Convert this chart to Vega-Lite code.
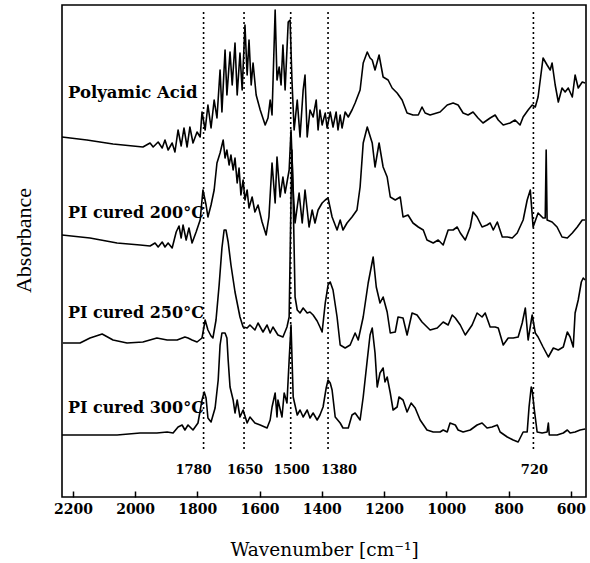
{
"$schema": "https://vega.github.io/schema/vega-lite/v6.json",
"width": 524, "height": 492,
"autosize": {"type": "none"},
"padding": {"left": 62, "top": 5, "right": 4, "bottom": 66},
"background": "white",
"config": {"view": {"stroke": "#000", "strokeWidth": 1.6}},
"datasets": {
"peaks": [{"wn":1780,"label":"1780"},{"wn":1650,"label":"1650"},{"wn":1500,"label":"1500"},{"wn":1380,"label":"1380"},{"wn":720,"label":"720"}],
"spectra": [
{"s":"PA","wn":2235,"abs":360},{"s":"PA","wn":2155,"abs":357},{"s":"PA","wn":2071,"abs":353},{"s":"PA","wn":2007,"abs":351},{"s":"PA","wn":1975,"abs":350},{"s":"PA","wn":1952,"abs":354},{"s":"PA","wn":1942,"abs":350},{"s":"PA","wn":1926,"abs":355},{"s":"PA","wn":1913,"abs":349},{"s":"PA","wn":1904,"abs":357},{"s":"PA","wn":1894,"abs":347},{"s":"PA","wn":1881,"abs":354},{"s":"PA","wn":1872,"abs":345},{"s":"PA","wn":1862,"abs":367},{"s":"PA","wn":1852,"abs":351},{"s":"PA","wn":1843,"abs":369},{"s":"PA","wn":1833,"abs":350},{"s":"PA","wn":1824,"abs":370},{"s":"PA","wn":1814,"abs":354},{"s":"PA","wn":1801,"abs":365},{"s":"PA","wn":1791,"abs":360},{"s":"PA","wn":1785,"abs":385},{"s":"PA","wn":1775,"abs":367},{"s":"PA","wn":1766,"abs":392},{"s":"PA","wn":1756,"abs":369},{"s":"PA","wn":1746,"abs":397},{"s":"PA","wn":1737,"abs":379},{"s":"PA","wn":1727,"abs":427},{"s":"PA","wn":1721,"abs":385},{"s":"PA","wn":1711,"abs":447},{"s":"PA","wn":1705,"abs":402},{"s":"PA","wn":1695,"abs":445},{"s":"PA","wn":1688,"abs":412},{"s":"PA","wn":1679,"abs":454},{"s":"PA","wn":1672,"abs":402},{"s":"PA","wn":1663,"abs":444},{"s":"PA","wn":1656,"abs":407},{"s":"PA","wn":1647,"abs":472},{"s":"PA","wn":1640,"abs":422},{"s":"PA","wn":1634,"abs":457},{"s":"PA","wn":1627,"abs":412},{"s":"PA","wn":1621,"abs":434},{"s":"PA","wn":1611,"abs":402},{"s":"PA","wn":1598,"abs":387},{"s":"PA","wn":1582,"abs":372},{"s":"PA","wn":1573,"abs":379},{"s":"PA","wn":1566,"abs":397},{"s":"PA","wn":1560,"abs":382},{"s":"PA","wn":1550,"abs":487},{"s":"PA","wn":1544,"abs":417},{"s":"PA","wn":1537,"abs":430},{"s":"PA","wn":1531,"abs":412},{"s":"PA","wn":1525,"abs":452},{"s":"PA","wn":1518,"abs":407},{"s":"PA","wn":1508,"abs":475},{"s":"PA","wn":1502,"abs":477},{"s":"PA","wn":1496,"abs":417},{"s":"PA","wn":1489,"abs":367},{"s":"PA","wn":1479,"abs":397},{"s":"PA","wn":1470,"abs":360},{"s":"PA","wn":1460,"abs":407},{"s":"PA","wn":1454,"abs":422},{"s":"PA","wn":1447,"abs":360},{"s":"PA","wn":1438,"abs":387},{"s":"PA","wn":1428,"abs":380},{"s":"PA","wn":1418,"abs":397},{"s":"PA","wn":1412,"abs":367},{"s":"PA","wn":1406,"abs":387},{"s":"PA","wn":1399,"abs":372},{"s":"PA","wn":1389,"abs":384},{"s":"PA","wn":1383,"abs":369},{"s":"PA","wn":1373,"abs":385},{"s":"PA","wn":1364,"abs":370},{"s":"PA","wn":1354,"abs":385},{"s":"PA","wn":1348,"abs":367},{"s":"PA","wn":1341,"abs":382},{"s":"PA","wn":1335,"abs":369},{"s":"PA","wn":1325,"abs":385},{"s":"PA","wn":1315,"abs":380},{"s":"PA","wn":1303,"abs":387},{"s":"PA","wn":1293,"abs":394},{"s":"PA","wn":1277,"abs":407},{"s":"PA","wn":1267,"abs":434},{"s":"PA","wn":1254,"abs":445},{"s":"PA","wn":1245,"abs":439},{"s":"PA","wn":1238,"abs":437},{"s":"PA","wn":1229,"abs":427},{"s":"PA","wn":1216,"abs":442},{"s":"PA","wn":1203,"abs":420},{"s":"PA","wn":1187,"abs":417},{"s":"PA","wn":1174,"abs":409},{"s":"PA","wn":1158,"abs":404},{"s":"PA","wn":1142,"abs":397},{"s":"PA","wn":1126,"abs":384},{"s":"PA","wn":1107,"abs":382},{"s":"PA","wn":1090,"abs":382},{"s":"PA","wn":1078,"abs":390},{"s":"PA","wn":1068,"abs":384},{"s":"PA","wn":1052,"abs":382},{"s":"PA","wn":1020,"abs":385},{"s":"PA","wn":997,"abs":392},{"s":"PA","wn":978,"abs":394},{"s":"PA","wn":962,"abs":392},{"s":"PA","wn":946,"abs":384},{"s":"PA","wn":930,"abs":382},{"s":"PA","wn":914,"abs":385},{"s":"PA","wn":898,"abs":379},{"s":"PA","wn":882,"abs":374},{"s":"PA","wn":859,"abs":379},{"s":"PA","wn":843,"abs":382},{"s":"PA","wn":833,"abs":377},{"s":"PA","wn":817,"abs":372},{"s":"PA","wn":795,"abs":374},{"s":"PA","wn":779,"abs":377},{"s":"PA","wn":763,"abs":372},{"s":"PA","wn":753,"abs":380},{"s":"PA","wn":737,"abs":387},{"s":"PA","wn":724,"abs":392},{"s":"PA","wn":714,"abs":390},{"s":"PA","wn":705,"abs":400},{"s":"PA","wn":689,"abs":439},{"s":"PA","wn":676,"abs":432},{"s":"PA","wn":666,"abs":427},{"s":"PA","wn":660,"abs":434},{"s":"PA","wn":650,"abs":412},{"s":"PA","wn":640,"abs":395},{"s":"PA","wn":628,"abs":409},{"s":"PA","wn":618,"abs":405},{"s":"PA","wn":608,"abs":409},{"s":"PA","wn":595,"abs":400},{"s":"PA","wn":586,"abs":422},{"s":"PA","wn":576,"abs":409},{"s":"PA","wn":563,"abs":415},{"s":"PA","wn":554,"abs":414},
{"s":"C200","wn":2235,"abs":262},{"s":"C200","wn":2145,"abs":259},{"s":"C200","wn":2058,"abs":254},{"s":"C200","wn":1984,"abs":252},{"s":"C200","wn":1952,"abs":251},{"s":"C200","wn":1936,"abs":254},{"s":"C200","wn":1926,"abs":250},{"s":"C200","wn":1913,"abs":255},{"s":"C200","wn":1904,"abs":250},{"s":"C200","wn":1894,"abs":254},{"s":"C200","wn":1881,"abs":249},{"s":"C200","wn":1868,"abs":265},{"s":"C200","wn":1859,"abs":271},{"s":"C200","wn":1852,"abs":259},{"s":"C200","wn":1846,"abs":272},{"s":"C200","wn":1836,"abs":257},{"s":"C200","wn":1827,"abs":269},{"s":"C200","wn":1817,"abs":254},{"s":"C200","wn":1804,"abs":265},{"s":"C200","wn":1791,"abs":277},{"s":"C200","wn":1782,"abs":307},{"s":"C200","wn":1772,"abs":292},{"s":"C200","wn":1766,"abs":280},{"s":"C200","wn":1756,"abs":292},{"s":"C200","wn":1746,"abs":307},{"s":"C200","wn":1737,"abs":334},{"s":"C200","wn":1727,"abs":344},{"s":"C200","wn":1717,"abs":357},{"s":"C200","wn":1711,"abs":339},{"s":"C200","wn":1705,"abs":347},{"s":"C200","wn":1698,"abs":332},{"s":"C200","wn":1692,"abs":342},{"s":"C200","wn":1685,"abs":327},{"s":"C200","wn":1679,"abs":339},{"s":"C200","wn":1672,"abs":314},{"s":"C200","wn":1666,"abs":329},{"s":"C200","wn":1660,"abs":302},{"s":"C200","wn":1653,"abs":317},{"s":"C200","wn":1647,"abs":297},{"s":"C200","wn":1640,"abs":307},{"s":"C200","wn":1634,"abs":289},{"s":"C200","wn":1624,"abs":300},{"s":"C200","wn":1615,"abs":285},{"s":"C200","wn":1605,"abs":292},{"s":"C200","wn":1592,"abs":275},{"s":"C200","wn":1579,"abs":262},{"s":"C200","wn":1570,"abs":280},{"s":"C200","wn":1560,"abs":334},{"s":"C200","wn":1550,"abs":294},{"s":"C200","wn":1544,"abs":340},{"s":"C200","wn":1534,"abs":300},{"s":"C200","wn":1525,"abs":320},{"s":"C200","wn":1518,"abs":304},{"s":"C200","wn":1505,"abs":327},{"s":"C200","wn":1499,"abs":367},{"s":"C200","wn":1492,"abs":307},{"s":"C200","wn":1486,"abs":274},{"s":"C200","wn":1473,"abs":304},{"s":"C200","wn":1463,"abs":274},{"s":"C200","wn":1454,"abs":307},{"s":"C200","wn":1441,"abs":270},{"s":"C200","wn":1431,"abs":287},{"s":"C200","wn":1422,"abs":274},{"s":"C200","wn":1412,"abs":287},{"s":"C200","wn":1399,"abs":294},{"s":"C200","wn":1389,"abs":297},{"s":"C200","wn":1380,"abs":299},{"s":"C200","wn":1367,"abs":280},{"s":"C200","wn":1351,"abs":267},{"s":"C200","wn":1341,"abs":277},{"s":"C200","wn":1332,"abs":267},{"s":"C200","wn":1319,"abs":274},{"s":"C200","wn":1303,"abs":280},{"s":"C200","wn":1287,"abs":287},{"s":"C200","wn":1277,"abs":310},{"s":"C200","wn":1267,"abs":354},{"s":"C200","wn":1254,"abs":370},{"s":"C200","wn":1238,"abs":354},{"s":"C200","wn":1229,"abs":330},{"s":"C200","wn":1216,"abs":354},{"s":"C200","wn":1203,"abs":330},{"s":"C200","wn":1190,"abs":320},{"s":"C200","wn":1180,"abs":300},{"s":"C200","wn":1164,"abs":297},{"s":"C200","wn":1148,"abs":300},{"s":"C200","wn":1139,"abs":280},{"s":"C200","wn":1123,"abs":282},{"s":"C200","wn":1107,"abs":274},{"s":"C200","wn":1090,"abs":270},{"s":"C200","wn":1074,"abs":267},{"s":"C200","wn":1062,"abs":257},{"s":"C200","wn":1042,"abs":254},{"s":"C200","wn":1026,"abs":257},{"s":"C200","wn":1010,"abs":252},{"s":"C200","wn":994,"abs":267},{"s":"C200","wn":978,"abs":267},{"s":"C200","wn":965,"abs":270},{"s":"C200","wn":955,"abs":264},{"s":"C200","wn":939,"abs":257},{"s":"C200","wn":923,"abs":270},{"s":"C200","wn":914,"abs":285},{"s":"C200","wn":901,"abs":280},{"s":"C200","wn":885,"abs":270},{"s":"C200","wn":869,"abs":272},{"s":"C200","wn":859,"abs":274},{"s":"C200","wn":849,"abs":267},{"s":"C200","wn":836,"abs":275},{"s":"C200","wn":820,"abs":260},{"s":"C200","wn":804,"abs":260},{"s":"C200","wn":788,"abs":259},{"s":"C200","wn":772,"abs":264},{"s":"C200","wn":753,"abs":277},{"s":"C200","wn":740,"abs":297},{"s":"C200","wn":730,"abs":307},{"s":"C200","wn":721,"abs":270},{"s":"C200","wn":705,"abs":284},{"s":"C200","wn":689,"abs":279},{"s":"C200","wn":682,"abs":279},{"s":"C200","wn":679,"abs":347},{"s":"C200","wn":676,"abs":277},{"s":"C200","wn":660,"abs":275},{"s":"C200","wn":644,"abs":270},{"s":"C200","wn":628,"abs":260},{"s":"C200","wn":611,"abs":259},{"s":"C200","wn":595,"abs":264},{"s":"C200","wn":579,"abs":270},{"s":"C200","wn":563,"abs":277},{"s":"C200","wn":554,"abs":277},
{"s":"C250","wn":2232,"abs":154},{"s":"C250","wn":2177,"abs":154},{"s":"C250","wn":2145,"abs":159},{"s":"C250","wn":2106,"abs":163},{"s":"C250","wn":2071,"abs":157},{"s":"C250","wn":2026,"abs":154},{"s":"C250","wn":1975,"abs":155},{"s":"C250","wn":1930,"abs":159},{"s":"C250","wn":1897,"abs":157},{"s":"C250","wn":1865,"abs":157},{"s":"C250","wn":1840,"abs":160},{"s":"C250","wn":1830,"abs":159},{"s":"C250","wn":1817,"abs":157},{"s":"C250","wn":1801,"abs":155},{"s":"C250","wn":1785,"abs":159},{"s":"C250","wn":1775,"abs":177},{"s":"C250","wn":1766,"abs":167},{"s":"C250","wn":1756,"abs":161},{"s":"C250","wn":1750,"abs":159},{"s":"C250","wn":1740,"abs":177},{"s":"C250","wn":1730,"abs":212},{"s":"C250","wn":1721,"abs":249},{"s":"C250","wn":1714,"abs":267},{"s":"C250","wn":1708,"abs":267},{"s":"C250","wn":1701,"abs":255},{"s":"C250","wn":1692,"abs":232},{"s":"C250","wn":1679,"abs":205},{"s":"C250","wn":1663,"abs":180},{"s":"C250","wn":1653,"abs":170},{"s":"C250","wn":1640,"abs":169},{"s":"C250","wn":1631,"abs":172},{"s":"C250","wn":1615,"abs":167},{"s":"C250","wn":1605,"abs":174},{"s":"C250","wn":1589,"abs":165},{"s":"C250","wn":1576,"abs":172},{"s":"C250","wn":1566,"abs":164},{"s":"C250","wn":1557,"abs":170},{"s":"C250","wn":1541,"abs":162},{"s":"C250","wn":1525,"abs":160},{"s":"C250","wn":1512,"abs":170},{"s":"C250","wn":1505,"abs":180},{"s":"C250","wn":1499,"abs":297},{"s":"C250","wn":1496,"abs":347},{"s":"C250","wn":1492,"abs":297},{"s":"C250","wn":1486,"abs":200},{"s":"C250","wn":1479,"abs":187},{"s":"C250","wn":1470,"abs":184},{"s":"C250","wn":1460,"abs":189},{"s":"C250","wn":1447,"abs":184},{"s":"C250","wn":1438,"abs":185},{"s":"C250","wn":1428,"abs":182},{"s":"C250","wn":1415,"abs":176},{"s":"C250","wn":1406,"abs":170},{"s":"C250","wn":1399,"abs":165},{"s":"C250","wn":1389,"abs":194},{"s":"C250","wn":1380,"abs":212},{"s":"C250","wn":1373,"abs":215},{"s":"C250","wn":1364,"abs":207},{"s":"C250","wn":1351,"abs":180},{"s":"C250","wn":1341,"abs":152},{"s":"C250","wn":1325,"abs":149},{"s":"C250","wn":1309,"abs":152},{"s":"C250","wn":1293,"abs":164},{"s":"C250","wn":1283,"abs":157},{"s":"C250","wn":1267,"abs":180},{"s":"C250","wn":1251,"abs":214},{"s":"C250","wn":1235,"abs":240},{"s":"C250","wn":1225,"abs":210},{"s":"C250","wn":1213,"abs":194},{"s":"C250","wn":1203,"abs":200},{"s":"C250","wn":1190,"abs":185},{"s":"C250","wn":1180,"abs":164},{"s":"C250","wn":1164,"abs":165},{"s":"C250","wn":1155,"abs":180},{"s":"C250","wn":1139,"abs":179},{"s":"C250","wn":1126,"abs":162},{"s":"C250","wn":1110,"abs":184},{"s":"C250","wn":1094,"abs":182},{"s":"C250","wn":1078,"abs":175},{"s":"C250","wn":1052,"abs":167},{"s":"C250","wn":1029,"abs":169},{"s":"C250","wn":1010,"abs":175},{"s":"C250","wn":994,"abs":172},{"s":"C250","wn":981,"abs":182},{"s":"C250","wn":971,"abs":179},{"s":"C250","wn":955,"abs":172},{"s":"C250","wn":939,"abs":162},{"s":"C250","wn":917,"abs":172},{"s":"C250","wn":901,"abs":184},{"s":"C250","wn":885,"abs":180},{"s":"C250","wn":875,"abs":184},{"s":"C250","wn":859,"abs":170},{"s":"C250","wn":843,"abs":170},{"s":"C250","wn":833,"abs":169},{"s":"C250","wn":817,"abs":152},{"s":"C250","wn":801,"abs":159},{"s":"C250","wn":785,"abs":159},{"s":"C250","wn":769,"abs":160},{"s":"C250","wn":756,"abs":174},{"s":"C250","wn":746,"abs":189},{"s":"C250","wn":737,"abs":157},{"s":"C250","wn":724,"abs":182},{"s":"C250","wn":714,"abs":164},{"s":"C250","wn":705,"abs":160},{"s":"C250","wn":689,"abs":150},{"s":"C250","wn":672,"abs":140},{"s":"C250","wn":656,"abs":149},{"s":"C250","wn":640,"abs":147},{"s":"C250","wn":624,"abs":150},{"s":"C250","wn":611,"abs":165},{"s":"C250","wn":602,"abs":160},{"s":"C250","wn":592,"abs":150},{"s":"C250","wn":586,"abs":184},{"s":"C250","wn":576,"abs":197},{"s":"C250","wn":566,"abs":215},{"s":"C250","wn":560,"abs":219},{"s":"C250","wn":554,"abs":217},
{"s":"C300","wn":2235,"abs":62},{"s":"C300","wn":2058,"abs":62},{"s":"C300","wn":1984,"abs":64},{"s":"C300","wn":1930,"abs":64},{"s":"C300","wn":1897,"abs":65},{"s":"C300","wn":1878,"abs":64},{"s":"C300","wn":1862,"abs":70},{"s":"C300","wn":1849,"abs":72},{"s":"C300","wn":1840,"abs":67},{"s":"C300","wn":1830,"abs":72},{"s":"C300","wn":1814,"abs":67},{"s":"C300","wn":1798,"abs":74},{"s":"C300","wn":1785,"abs":97},{"s":"C300","wn":1778,"abs":105},{"s":"C300","wn":1772,"abs":99},{"s":"C300","wn":1766,"abs":79},{"s":"C300","wn":1756,"abs":75},{"s":"C300","wn":1743,"abs":89},{"s":"C300","wn":1733,"abs":117},{"s":"C300","wn":1727,"abs":152},{"s":"C300","wn":1721,"abs":164},{"s":"C300","wn":1711,"abs":164},{"s":"C300","wn":1705,"abs":159},{"s":"C300","wn":1701,"abs":137},{"s":"C300","wn":1695,"abs":110},{"s":"C300","wn":1685,"abs":97},{"s":"C300","wn":1679,"abs":84},{"s":"C300","wn":1672,"abs":97},{"s":"C300","wn":1663,"abs":80},{"s":"C300","wn":1653,"abs":87},{"s":"C300","wn":1640,"abs":74},{"s":"C300","wn":1631,"abs":80},{"s":"C300","wn":1615,"abs":74},{"s":"C300","wn":1598,"abs":72},{"s":"C300","wn":1576,"abs":69},{"s":"C300","wn":1566,"abs":77},{"s":"C300","wn":1560,"abs":90},{"s":"C300","wn":1550,"abs":104},{"s":"C300","wn":1544,"abs":80},{"s":"C300","wn":1541,"abs":97},{"s":"C300","wn":1528,"abs":80},{"s":"C300","wn":1521,"abs":104},{"s":"C300","wn":1512,"abs":94},{"s":"C300","wn":1505,"abs":137},{"s":"C300","wn":1499,"abs":172},{"s":"C300","wn":1492,"abs":100},{"s":"C300","wn":1479,"abs":82},{"s":"C300","wn":1470,"abs":87},{"s":"C300","wn":1460,"abs":80},{"s":"C300","wn":1447,"abs":87},{"s":"C300","wn":1438,"abs":79},{"s":"C300","wn":1428,"abs":84},{"s":"C300","wn":1415,"abs":77},{"s":"C300","wn":1406,"abs":82},{"s":"C300","wn":1396,"abs":90},{"s":"C300","wn":1386,"abs":109},{"s":"C300","wn":1380,"abs":117},{"s":"C300","wn":1373,"abs":114},{"s":"C300","wn":1367,"abs":107},{"s":"C300","wn":1357,"abs":80},{"s":"C300","wn":1341,"abs":74},{"s":"C300","wn":1332,"abs":69},{"s":"C300","wn":1315,"abs":69},{"s":"C300","wn":1303,"abs":82},{"s":"C300","wn":1293,"abs":84},{"s":"C300","wn":1277,"abs":77},{"s":"C300","wn":1267,"abs":100},{"s":"C300","wn":1254,"abs":137},{"s":"C300","wn":1245,"abs":162},{"s":"C300","wn":1238,"abs":169},{"s":"C300","wn":1229,"abs":144},{"s":"C300","wn":1222,"abs":110},{"s":"C300","wn":1213,"abs":124},{"s":"C300","wn":1203,"abs":129},{"s":"C300","wn":1197,"abs":115},{"s":"C300","wn":1190,"abs":120},{"s":"C300","wn":1180,"abs":104},{"s":"C300","wn":1171,"abs":87},{"s":"C300","wn":1158,"abs":90},{"s":"C300","wn":1152,"abs":100},{"s":"C300","wn":1139,"abs":97},{"s":"C300","wn":1126,"abs":85},{"s":"C300","wn":1113,"abs":94},{"s":"C300","wn":1100,"abs":89},{"s":"C300","wn":1084,"abs":77},{"s":"C300","wn":1062,"abs":67},{"s":"C300","wn":1042,"abs":65},{"s":"C300","wn":1020,"abs":65},{"s":"C300","wn":1010,"abs":67},{"s":"C300","wn":997,"abs":65},{"s":"C300","wn":988,"abs":74},{"s":"C300","wn":971,"abs":72},{"s":"C300","wn":962,"abs":67},{"s":"C300","wn":946,"abs":65},{"s":"C300","wn":923,"abs":67},{"s":"C300","wn":901,"abs":72},{"s":"C300","wn":885,"abs":74},{"s":"C300","wn":869,"abs":69},{"s":"C300","wn":853,"abs":70},{"s":"C300","wn":836,"abs":72},{"s":"C300","wn":827,"abs":65},{"s":"C300","wn":804,"abs":60},{"s":"C300","wn":785,"abs":57},{"s":"C300","wn":769,"abs":55},{"s":"C300","wn":753,"abs":65},{"s":"C300","wn":740,"abs":65},{"s":"C300","wn":734,"abs":90},{"s":"C300","wn":727,"abs":110},{"s":"C300","wn":724,"abs":107},{"s":"C300","wn":717,"abs":87},{"s":"C300","wn":708,"abs":65},{"s":"C300","wn":692,"abs":64},{"s":"C300","wn":676,"abs":65},{"s":"C300","wn":672,"abs":74},{"s":"C300","wn":669,"abs":62},{"s":"C300","wn":644,"abs":62},{"s":"C300","wn":624,"abs":64},{"s":"C300","wn":611,"abs":67},{"s":"C300","wn":602,"abs":64},{"s":"C300","wn":586,"abs":65},{"s":"C300","wn":570,"abs":67},{"s":"C300","wn":554,"abs":68}
]
},
"layer": [
{
"data": {"name": "spectra"},
"mark": {"type": "line", "color": "#000", "strokeWidth": 1.6, "strokeJoin": "round"},
"encoding": {
"x": {"field": "wn", "type": "quantitative",
"scale": {"domain": [551, 2235], "reverse": true, "nice": false, "zero": false},
"axis": {"values": [2200,2100,2000,1900,1800,1700,1600,1500,1400,1300,1200,1100,1000,900,800,700,600],
"labelExpr": "datum.value % 200 === 0 ? datum.label : ''",
"format": "d",
"tickSize": {"condition": {"test": "datum.value % 200 === 0", "value": -6}, "value": -3},
"tickColor": "#000", "tickWidth": 1.5, "domain": false, "grid": false,
"labelFont": "DejaVu Serif", "labelFontWeight": "bold", "labelFontSize": 14, "labelColor": "#000",
"labelPadding": 11,
"title": "Wavenumber [cm⁻¹]", "titleFont": "DejaVu Serif", "titleFontSize": 18.5, "titleFontWeight": "normal", "titleColor": "#000", "titlePadding": 24}},
"y": {"field": "abs", "type": "quantitative",
"scale": {"domain": [0, 492], "nice": false, "zero": false},
"axis": {"title": "Absorbance", "ticks": false, "labels": false, "domain": false, "grid": false,
"titleFont": "Liberation Serif", "titleFontSize": 22, "titleFontWeight": "normal", "titleColor": "#000", "titlePadding": 27, "titleY": 235}},
"detail": {"field": "s", "type": "nominal"}
}
},
{
"data": {"name": "peaks"},
"mark": {"type": "rule", "color": "#000", "strokeWidth": 1.6, "strokeDash": [2, 3]},
"encoding": {
"x": {"field": "wn", "type": "quantitative"},
"y": {"datum": 485, "type": "quantitative"},
"y2": {"datum": 46}
}
},
{
"data": {"name": "peaks"},
"transform": [{"filter": "datum.wn == 1650 || datum.wn == 1500 || datum.wn == 720"}],
"mark": {"type": "text", "font": "DejaVu Serif", "fontWeight": "bold", "fontSize": 13, "color": "#000", "baseline": "middle", "align": "center", "dx": 1},
"encoding": {
"x": {"field": "wn", "type": "quantitative"},
"y": {"datum": 27, "type": "quantitative"},
"text": {"field": "label"}
}
},
{
"data": {"name": "peaks"},
"transform": [{"filter": "datum.wn == 1780"}],
"mark": {"type": "text", "font": "DejaVu Serif", "fontWeight": "bold", "fontSize": 13, "color": "#000", "baseline": "middle", "align": "center", "dx": -10},
"encoding": {
"x": {"field": "wn", "type": "quantitative"},
"y": {"datum": 27, "type": "quantitative"},
"text": {"field": "label"}
}
},
{
"data": {"name": "peaks"},
"transform": [{"filter": "datum.wn == 1380"}],
"mark": {"type": "text", "font": "DejaVu Serif", "fontWeight": "bold", "fontSize": 13, "color": "#000", "baseline": "middle", "align": "center", "dx": 11},
"encoding": {
"x": {"field": "wn", "type": "quantitative"},
"y": {"datum": 27, "type": "quantitative"},
"text": {"field": "label"}
}
},
{
"data": {"values": [{}]},
"mark": {"type": "text", "text": "Polyamic Acid", "font": "DejaVu Serif", "fontWeight": "bold", "fontSize": 16.5, "color": "#000", "align": "left", "baseline": "alphabetic"},
"encoding": {"x": {"datum": 2216, "type": "quantitative"}, "y": {"datum": 399, "type": "quantitative"}}
},
{
"data": {"values": [{}]},
"mark": {"type": "text", "text": "PI cured 200°C", "font": "DejaVu Serif", "fontWeight": "bold", "fontSize": 16, "color": "#000", "align": "left", "baseline": "alphabetic"},
"encoding": {"x": {"datum": 2216, "type": "quantitative"}, "y": {"datum": 279, "type": "quantitative"}}
},
{
"data": {"values": [{}]},
"mark": {"type": "text", "text": "PI cured 250°C", "font": "DejaVu Serif", "fontWeight": "bold", "fontSize": 16, "color": "#000", "align": "left", "baseline": "alphabetic"},
"encoding": {"x": {"datum": 2216, "type": "quantitative"}, "y": {"datum": 179, "type": "quantitative"}}
},
{
"data": {"values": [{}]},
"mark": {"type": "text", "text": "PI cured 300°C", "font": "DejaVu Serif", "fontWeight": "bold", "fontSize": 16, "color": "#000", "align": "left", "baseline": "alphabetic"},
"encoding": {"x": {"datum": 2216, "type": "quantitative"}, "y": {"datum": 84, "type": "quantitative"}}
}
]
}
